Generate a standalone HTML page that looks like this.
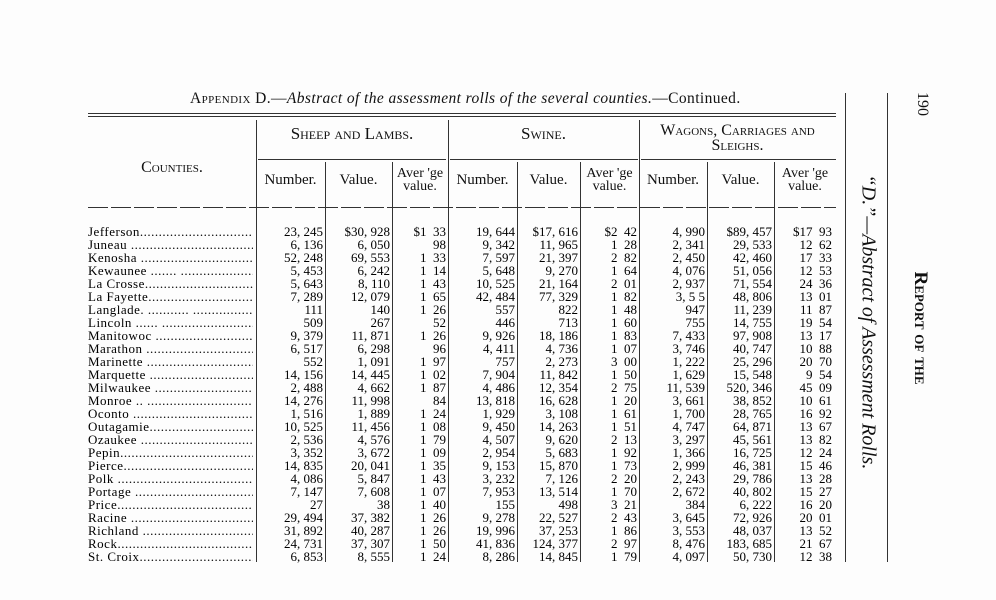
<!DOCTYPE html>
<html><head><meta charset="utf-8"><style>
body{margin:0;background:#fff;}
#p{position:relative;width:996px;height:600px;overflow:hidden;background:#fdfdfd;font-family:"Liberation Serif",serif;color:#111;}
.a{position:absolute;white-space:nowrap;}
.h{position:absolute;background:#333;height:1px;}
.v{position:absolute;background:#333;width:1px;}
.col{position:absolute;top:225px;font-size:13px;line-height:13px;text-align:right;white-space:pre;color:#000;}
.sc{font-variant:small-caps;}
.c{text-align:center;font-size:15px;line-height:13px;}
.c2{text-align:center;font-size:14px;line-height:13px;}
</style></head><body><div id="p">
<div class="a" style="left:190px;top:90px;font-size:15.5px;letter-spacing:0.4px;"><span class="sc">Appendix D.</span>—<i>Abstract of the assessment rolls of the several counties.</i>—Continued.</div>
<div class="h" style="left:88px;top:113px;width:748px;"></div>
<div class="h" style="left:88px;top:116px;width:748px;"></div>
<div class="h" style="left:258px;top:159px;width:188px;"></div>
<div class="h" style="left:450px;top:159px;width:188px;"></div>
<div class="h" style="left:641px;top:159px;width:195px;"></div>
<div class="h" style="left:88px;top:207px;width:748px;background:repeating-linear-gradient(90deg,#333 0 20px,transparent 20px 23px);"></div>
<div class="v" style="left:256px;top:120px;height:442px;"></div>
<div class="v" style="left:448px;top:120px;height:442px;"></div>
<div class="v" style="left:639px;top:120px;height:442px;"></div>
<div class="v" style="left:325px;top:162px;height:400px;"></div>
<div class="v" style="left:392px;top:162px;height:400px;"></div>
<div class="v" style="left:517px;top:162px;height:400px;"></div>
<div class="v" style="left:580px;top:162px;height:400px;"></div>
<div class="v" style="left:707px;top:162px;height:400px;"></div>
<div class="v" style="left:774px;top:162px;height:400px;"></div>
<div class="v" style="left:845px;top:93px;height:469px;"></div>
<div class="v" style="left:887px;top:93px;height:469px;"></div>
<div class="a sc c" style="left:88px;width:168px;top:161px;font-size:16px;">Counties.</div>
<div class="a sc c" style="left:256px;width:192px;top:127px;font-size:17px;">Sheep and Lambs.</div>
<div class="a sc c" style="left:448px;width:191px;top:127px;font-size:17px;">Swine.</div>
<div class="a sc c" style="left:639px;width:197px;top:123px;font-size:16px;line-height:15px;">Wagons, Carriages and<br>Sleighs.</div>
<div class="a c" style="left:256px;width:69px;top:174px;">Number.</div>
<div class="a c" style="left:325px;width:67px;top:174px;">Value.</div>
<div class="a c2" style="left:392px;width:56px;top:167px;">Aver 'ge<br>value.</div>
<div class="a c" style="left:448px;width:69px;top:174px;">Number.</div>
<div class="a c" style="left:517px;width:63px;top:174px;">Value.</div>
<div class="a c2" style="left:580px;width:59px;top:167px;">Aver 'ge<br>value.</div>
<div class="a c" style="left:639px;width:68px;top:174px;">Number.</div>
<div class="a c" style="left:707px;width:67px;top:174px;">Value.</div>
<div class="a c2" style="left:774px;width:62px;top:167px;">Aver 'ge<br>value.</div>
<div class="col" style="left:88px;width:165px;text-align:left;overflow:hidden;letter-spacing:0.5px;">Jefferson..........................................
Juneau ............................................
Kenosha ...........................................
Kewaunee ....... ..................................
La Crosse..........................................
La Fayette.........................................
Langlade. ........... .............................
Lincoln ...... ....................................
Manitowoc .........................................
Marathon ..........................................
Marinette .........................................
Marquette .........................................
Milwaukee .........................................
Monroe .. .........................................
Oconto ............................................
Outagamie..........................................
Ozaukee ...........................................
Pepin..............................................
Pierce.............................................
Polk ..............................................
Portage ...........................................
Price..............................................
Racine ............................................
Richland ..........................................
Rock...............................................
St. Croix..........................................</div>
<div class="col" style="left:256px;width:67px;">23, 245
6, 136
52, 248
5, 453
5, 643
7, 289
111
509
9, 379
6, 517
552
14, 156
2, 488
14, 276
1, 516
10, 525
2, 536
3, 352
14, 835
4, 086
7, 147
27
29, 494
31, 892
24, 731
6, 853</div>
<div class="col" style="left:325px;width:65px;">$30, 928
6, 050
69, 553
6, 242
8, 110
12, 079
140
267
11, 871
6, 298
1, 091
14, 445
4, 662
11, 998
1, 889
11, 456
4, 576
3, 672
20, 041
5, 847
7, 608
38
37, 382
40, 287
37, 307
8, 555</div>
<div class="col" style="left:392px;width:54px;">$1  33
98
1  33
1  14
1  43
1  65
1  26
52
1  26
96
1  97
1  02
1  87
84
1  24
1  08
1  79
1  09
1  35
1  43
1  07
1  40
1  26
1  26
1  50
1  24</div>
<div class="col" style="left:448px;width:67px;">19, 644
9, 342
7, 597
5, 648
10, 525
42, 484
557
446
9, 926
4, 411
757
7, 904
4, 486
13, 818
1, 929
9, 450
4, 507
2, 954
9, 153
3, 232
7, 953
155
9, 278
19, 996
41, 836
8, 286</div>
<div class="col" style="left:517px;width:61px;">$17, 616
11, 965
21, 397
9, 270
21, 164
77, 329
822
713
18, 186
4, 736
2, 273
11, 842
12, 354
16, 628
3, 108
14, 263
9, 620
5, 683
15, 870
7, 126
13, 514
498
22, 527
37, 253
124, 377
14, 845</div>
<div class="col" style="left:580px;width:57px;">$2  42
1  28
2  82
1  64
2  01
1  82
1  48
1  60
1  83
1  07
3  00
1  50
2  75
1  20
1  61
1  51
2  13
1  92
1  73
2  20
1  70
3  21
2  43
1  86
2  97
1  79</div>
<div class="col" style="left:639px;width:66px;">4, 990
2, 341
2, 450
4, 076
2, 937
3, 5 5
947
755
7, 433
3, 746
1, 222
1, 629
11, 539
3, 661
1, 700
4, 747
3, 297
1, 366
2, 999
2, 243
2, 672
384
3, 645
3, 553
8, 476
4, 097</div>
<div class="col" style="left:707px;width:65px;">$89, 457
29, 533
42, 460
51, 056
71, 554
48, 806
11, 239
14, 755
97, 908
40, 747
25, 296
15, 548
520, 346
38, 852
28, 765
64, 871
45, 561
16, 725
46, 381
29, 786
40, 802
6, 222
72, 926
48, 037
183, 685
50, 730</div>
<div class="col" style="left:774px;width:58px;">$17  93
12  62
17  33
12  53
24  36
13  01
11  87
19  54
13  17
10  88
20  70
9  54
45  09
10  61
16  92
13  67
13  82
12  24
15  46
13  28
15  27
16  20
20  01
13  52
21  67
12  38</div>
<div class="a" style="left:868px;top:322px;transform:translate(-50%,-50%) rotate(90deg);font-size:20px;font-style:italic;">“D.”—Abstract of Assessment Rolls.</div>
<div class="a sc" style="left:920px;top:328px;transform:translate(-50%,-50%) rotate(90deg);font-size:19px;font-weight:bold;">Report of the</div>
<div class="a" style="left:922px;top:104px;transform:translate(-50%,-50%) rotate(90deg);font-size:16px;">190</div>
</div></body></html>
